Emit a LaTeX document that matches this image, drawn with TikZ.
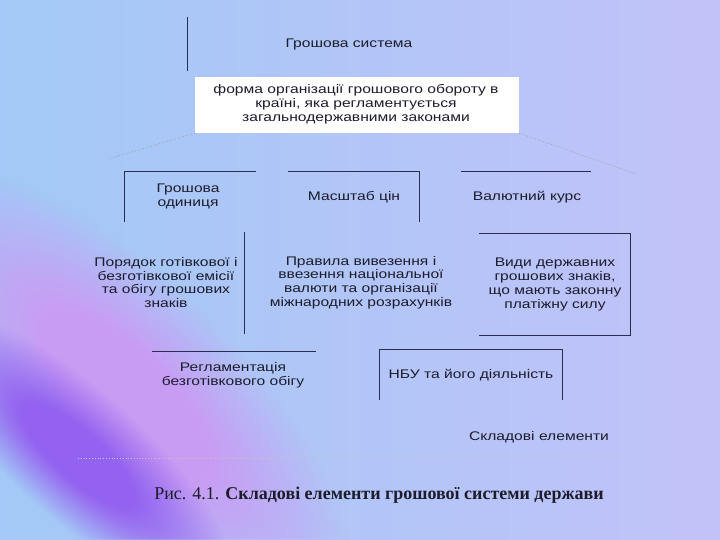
\documentclass[tikz,border=0pt]{standalone}
\usepackage{fontspec}
\setmainfont{Liberation Serif}
\newfontfamily\sansf[FakeStretch=1.25]{Liberation Sans}
\usetikzlibrary{fadings}
\definecolor{bgblue}{HTML}{A2C9F7}
\definecolor{bglav}{HTML}{C2C2F8}
\definecolor{purp}{HTML}{9462F0}
\definecolor{pinkl}{HTML}{C99CF4}
\definecolor{ink}{HTML}{1C1C2C}
\definecolor{edge}{HTML}{2A2C50}
\pgfdeclareradialshading{plateaushade}{\pgfpoint{0bp}{0bp}}{color(0bp)=(white); color(9bp)=(white); color(25bp)=(black); color(50bp)=(black)}
\pgfdeclarefading{plateau}{\pgfuseshading{plateaushade}}
\tikzset{
  lbl/.style={font=\sansf\fontsize{12.5}{13.8}\selectfont, text=ink, align=center, inner sep=0pt},
  frame/.style={draw=edge, line width=0.8pt},
  dots/.style={draw=gray!75!white, dotted, line width=0.8pt},
}
\begin{document}
\begin{tikzpicture}[x=1pt,y=-1pt]
\useasboundingbox (0,0) rectangle (720,540);
% background
\shade[left color=bgblue, right color=bglav] (0,0) rectangle (720,540);
\fill[pinkl, path fading=plateau, fit fading=false,
  fading transform={shift={(125,395)}, rotate=-45, xscale=12, yscale=4.6}] (0,0) rectangle (720,540);
\fill[purp, path fading=plateau, fit fading=false,
  fading transform={shift={(78,455)}, rotate=-42, xscale=8, yscale=2.6}] (0,0) rectangle (720,540);
% title
\node[lbl] (title) at (349,44) {Грошова система};
\draw[frame] (187,17) -- (187,71);
% definition box
\node[fill=white, minimum width=324pt, minimum height=56pt, inner sep=0pt] (defbox) at (357,105) {};
\node[lbl] (deftext) at (356,104.5) {форма організації грошового обороту в\\країні, яка регламентується\\загальнодержавними законами};
% dotted connectors
\coordinate (dl) at (108,159);
\coordinate (dr) at (636,174);
\draw[dots] (defbox.south west) -- (dl);
\draw[dots] (defbox.south east) -- (dr);
% row 1
\node[lbl] (unit) at (188,196.5) {Грошова\\одиниця};
\draw[frame] (124,222) -- (124,171) -- (256,171);
\node[lbl] (scale) at (354,197) {Масштаб цін};
\draw[frame] (288,171) -- (419,171) -- (419,222);
\node[lbl] (rate) at (527,197) {Валютний курс};
\draw[frame] (461,171) -- (591,171);
% row 2
\node[lbl] (order) at (166,282.5) {Порядок готівкової і\\безготівкової емісії\\та обігу грошових\\знаків};
\draw[frame] (244,232) -- (244,334);
\node[lbl] (rules) at (361,282.5) {Правила вивезення і\\ввезення національної\\валюти та організації\\міжнародних розрахунків};
\node[lbl] (kinds) at (555,284.5) {Види державних\\грошових знаків,\\що мають законну\\платіжну силу};
\draw[frame] (479,233) -- (630,233) -- (630,335) -- (479,335);
% row 3
\node[lbl] (regl) at (233,375) {Регламентація\\безготівкового обігу};
\draw[frame] (152,351) -- (316,351);
\node[lbl] (nbu) at (471,375) {НБУ та його діяльність};
\draw[frame] (379,400) -- (379,349) -- (562,349) -- (562,400);
% footer
\node[lbl] (parts) at (539,437) {Складові елементи};
\draw[dots, draw=gray!45!white] (78,458) -- (631,458);
\node[font=\fontsize{18}{21}\selectfont, text=ink, inner sep=0pt] (caption) at (379,495) {Рис. 4.1. \textbf{Складові елементи грошової системи держави}};
\end{tikzpicture}
\end{document}
